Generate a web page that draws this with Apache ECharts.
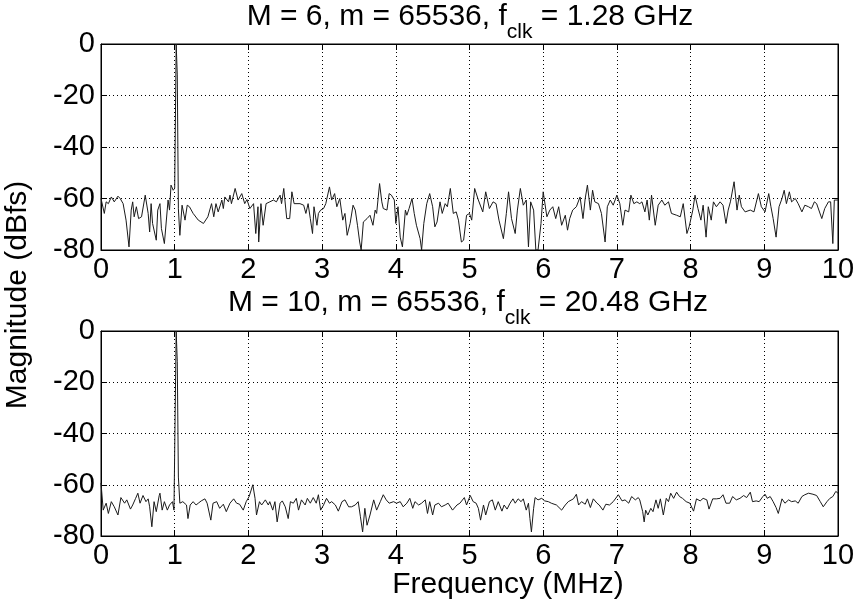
<!DOCTYPE html>
<html>
<head>
<meta charset="utf-8">
<script src="https://cdn.jsdelivr.net/npm/echarts@6/dist/echarts.min.js"></script>
<style>
html,body{margin:0;padding:0;background:#fff;}
#c{width:860px;height:604px;}
</style>
</head>
<body>
<div id="c"></div>
<script>
// ---- data ----
var xTicks = [0,1,2,3,4,5,6,7,8,9,10];
var yTicks = [-80,-60,-40,-20,0];
var titleTop = ['M = 6, m = 65536, f', 'clk', ' = 1.28 GHz'];
var titleBot = ['M = 10, m = 65536, f', 'clk', ' = 20.48 GHz'];
var xName = 'Frequency (MHz)';
var yName = 'Magnitude (dBfs)';

var topFreq = [0.00,0.045,0.07,0.10,0.14,0.18,0.23,0.26,0.30,0.34,0.38,0.41,0.43,0.45,0.48,0.51,0.55,0.60,0.64,0.66,0.68,0.70,0.75,0.77,0.80,0.82,0.86,0.91,0.93,0.95,0.98,1.00,1.02,1.035,1.05,1.07,1.10,1.14,1.17,1.20,1.25,1.32,1.39,1.45,1.50,1.53,1.56,1.59,1.64,1.66,1.68,1.73,1.75,1.77,1.82,1.86,1.91,1.95,1.98,2.02,2.07,2.10,2.13,2.14,2.17,2.20,2.24,
2.29,2.34,2.38,2.43,2.45,2.48,2.52,2.56,2.59,2.62,2.70,2.75,2.78,2.81,2.84,2.87,2.89,2.93,2.95,2.98,3.02,3.05,3.10,3.13,3.17,3.20,3.24,3.28,3.31,3.34,3.38,3.42,3.45,3.48,3.51,3.53,3.56,3.61,3.63,3.65,3.69,3.72,3.74,3.78,3.81,3.83,3.88,3.91,3.94,3.98,4.00,4.03,4.06,4.09,4.13,4.15,4.18,4.22,4.25,4.28,4.33,4.35,4.38,4.42,4.46,4.50,4.53,4.56,4.60,4.63,4.67,4.70,4.74,
4.78,4.82,4.85,4.89,4.92,4.96,5.00,5.03,5.07,5.12,5.18,5.22,5.27,5.32,5.36,5.40,5.46,5.50,5.53,5.57,5.62,5.65,5.69,5.73,5.77,5.80,5.83,5.87,5.90,5.93,5.97,6.00,6.05,6.09,6.13,6.17,6.21,6.25,6.30,6.33,6.36,6.40,6.45,6.50,6.54,6.57,6.60,6.64,6.67,6.70,6.75,6.79,6.84,6.87,6.91,6.95,7.00,7.04,7.08,7.11,7.16,7.19,7.23,7.27,
7.31,7.34,7.38,7.41,7.44,7.47,7.52,7.56,7.61,7.65,7.70,7.74,7.81,7.86,7.90,7.95,7.98,8.03,8.06,8.10,8.14,8.17,8.21,8.24,8.28,8.31,8.35,8.40,8.44,8.48,8.51,8.54,8.59,8.63,8.66,8.69,8.74,8.81,8.86,8.92,8.96,9.01,9.06,9.09,9.12,9.16,9.20,9.24,9.27,9.30,9.34,9.37,9.42,9.46,9.51,9.55,9.60,9.64,9.68,9.71,9.78,9.82,9.87,9.90,9.93,9.95,10.0];
var topDb = [-60,-65.8,-61.3,-62,-59.4,-61.3,-59.1,-60,-62,-68.4,-78.8,-64.5,-61.3,-67.1,-63.2,-67.8,-67.1,-58.7,-65.8,-73,-62,-69.7,-76.2,-64.5,-62,-71.7,-77.5,-60.6,-64.5,-54.8,-56.8,-56,0,-12,-64,-74.3,-62.6,-68.4,-62.6,-63.2,-65.8,-68.4,-69.7,-67.1,-62,-67.1,-62,-65.2,-60.6,-63.9,-59.4,-61.3,-58.7,-62,-56.1,-60.6,-58.1,-62,-60.4,-63.9,-62,-73.6,-63.2,-76.9,-62,-70.4,-62,
-61.3,-60.6,-61.3,-58.7,-62,-56.1,-67.8,-67.8,-57.4,-62,-62,-62.6,-65.8,-62,-67.8,-73.6,-63.2,-70.4,-65.8,-64.5,-63.9,-62,-55.5,-60.6,-58.1,-63.2,-60,-68.4,-65.8,-74.3,-69.7,-62.6,-64.5,-70.4,-76.9,-80,-69.1,-67.8,-68.4,-66.5,-70.4,-64.5,-65.8,-54.2,-61.3,-63.9,-64.5,-58.1,-58.7,-60.6,-69.7,-63.2,-75,-78.8,-64.5,-66.5,-63.9,-60,-65.8,-70.4,-75.6,-80,-69.7,-62,-58.1,-63.2,-71,-69.1,-61.3,-65.8,-62,-63.2,-56.1,
-65.8,-65.2,-68.4,-76.9,-76.2,-66.5,-65.8,-68.4,-56.1,-60.6,-65.2,-57.4,-63.9,-61.3,-62,-68.4,-75.6,-65.8,-57.4,-67.8,-73.6,-64.5,-56.1,-62.6,-60.6,-78.8,-61.3,-64.5,-80,-80,-69.7,-57.4,-67.1,-64.5,-63.2,-67.8,-63.2,-70.4,-66.5,-72.3,-67.8,-64.5,-63.2,-59.4,-67.8,-60,-54.8,-64.5,-56.8,-61.3,-62,-65.8,-76.9,-63.2,-60.6,-62.6,-58.7,-62,-70.4,-64.5,-65.2,-58.7,-62,-61.3,
-62,-61.3,-65.2,-60.6,-68.4,-58.7,-70.4,-62.6,-60.6,-62.6,-61.3,-65.8,-66.5,-67.1,-62,-73.6,-71,-64.5,-58.7,-63.9,-68.4,-62.6,-75,-63.2,-68.4,-61.3,-63.2,-61.3,-62.6,-69.7,-64.5,-61.3,-53.5,-64.5,-58.7,-63.2,-65.2,-64.5,-65.2,-58.1,-63.2,-65.2,-58.1,-63.2,-67.8,-75,-63.2,-60,-56.8,-62,-57.4,-61.3,-60,-62,-65.2,-62.6,-63.2,-63.9,-61.3,-62,-67.8,-63.9,-61.3,-61.3,-77.5,-60.6,-60.6];

var botFreq = [0.00,0.03,0.07,0.10,0.14,0.18,0.23,0.27,0.32,0.35,0.40,0.43,0.47,0.50,0.53,0.57,0.61,0.64,0.66,0.69,0.72,0.75,0.79,0.80,0.83,0.86,0.90,0.93,0.97,0.99,1.02,1.035,1.05,1.07,1.11,1.16,1.18,1.21,1.25,1.29,1.32,1.36,1.41,1.44,1.49,1.52,1.57,1.61,1.66,1.70,1.75,1.80,1.84,1.88,1.93,1.97,2.01,2.06,2.09,2.11,2.15,2.18,2.23,2.27,
2.29,2.33,2.36,2.39,2.43,2.46,2.50,2.54,2.57,2.61,2.65,2.68,2.72,2.77,2.80,2.84,2.88,2.92,2.95,2.98,3.02,3.06,3.10,3.13,3.18,3.22,3.27,3.31,3.36,3.40,3.45,3.49,3.52,3.55,3.58,3.61,3.65,3.70,3.74,3.79,3.83,3.87,3.91,3.97,4.01,4.06,4.10,4.15,4.19,4.23,4.26,4.31,4.35,4.40,4.43,4.46,4.50,4.53,4.58,4.62,4.67,4.71,
4.77,4.83,4.87,4.93,4.96,5.01,5.05,5.09,5.12,5.15,5.19,5.22,5.27,5.31,5.35,5.39,5.44,5.47,5.51,5.55,5.59,5.62,5.66,5.70,5.73,5.77,5.80,5.82,5.84,5.87,5.89,5.93,5.98,6.02,6.07,6.11,6.18,6.25,6.30,6.34,6.41,6.45,6.48,6.52,6.57,6.60,6.64,6.68,6.73,6.76,6.81,6.85,6.90,6.95,7.02,7.07,7.11,7.16,7.20,7.25,7.29,
7.31,7.35,7.37,7.39,7.42,7.46,7.49,7.53,7.56,7.59,7.63,7.67,7.70,7.73,7.77,7.81,7.85,7.89,7.94,7.99,8.04,8.08,8.13,8.17,8.22,8.25,8.30,8.35,8.40,8.44,8.48,8.53,8.57,8.62,8.67,8.72,8.76,8.81,8.84,8.89,8.93,8.98,9.01,9.04,9.08,9.12,9.16,9.19,9.24,9.28,9.33,9.37,9.42,9.46,9.51,9.55,9.60,9.66,9.71,9.76,9.80,9.85,9.89,9.93,9.97,10.0];
var botDb = [-59.3,-69.9,-67.2,-71.2,-66.6,-68.6,-71.8,-65,-67.2,-65.9,-69.5,-67.9,-65.3,-63.3,-67.2,-64.2,-66.6,-65.5,-68.6,-76.4,-66.6,-70.5,-64.2,-63.3,-69.9,-66.6,-69.9,-67.9,-66.6,-69.9,0,-12,-57,-67.2,-66.6,-67.9,-73.2,-67.9,-66.6,-67.9,-67.2,-66.3,-65.5,-67.2,-73.8,-67.2,-66.6,-69.2,-67.6,-70.5,-67.2,-65.5,-67.2,-67.6,-69.9,-66.6,-64.6,-60,-65.3,-71.8,-66.6,-67.9,-65.9,-67.9,
-66.6,-69.9,-66.6,-74.5,-67.2,-66.3,-68.6,-73.2,-66.6,-67.2,-65.3,-69.9,-65.9,-67.9,-65.3,-67.2,-65,-67.2,-63.9,-69.9,-67.9,-65.3,-67.2,-66.6,-67.9,-70.3,-66.6,-65.9,-68.6,-68.6,-67.9,-66.6,-72.5,-78.4,-69.2,-75.8,-71.8,-65.9,-69.9,-66.6,-63.9,-65.9,-67.2,-66.6,-67.2,-66.6,-68.6,-67.2,-65.3,-69.2,-66.6,-67.9,-67.2,-65.9,-71.2,-66.6,-71.8,-67.9,-67.2,-68.6,-67.9,-67.2,
-69.9,-67.9,-67.2,-65,-67.9,-64.2,-66.6,-67.2,-69.2,-73.8,-67.9,-71.8,-66.6,-65.9,-69.9,-66.6,-70.3,-67.9,-69.5,-67.2,-65.5,-67.2,-65.5,-66.6,-65.5,-69.9,-67.2,-73.2,-78.4,-69.2,-65,-65.9,-65.3,-66.3,-66.6,-67.2,-67.9,-69.9,-67.9,-66.6,-65.5,-63.7,-67.9,-66.6,-67.6,-65.5,-68.9,-65.5,-67.2,-67.9,-69.9,-67.6,-67.9,-66.6,-63.9,-66.3,-65.9,-67.2,-64.6,-65.9,-65,
-65.9,-70.5,-74.5,-69.9,-71.8,-69.2,-70.5,-65.9,-69.2,-65.5,-71.8,-65.3,-66.6,-63.3,-65.3,-62.9,-64.6,-65.3,-66.6,-67.2,-70.3,-65.5,-66.3,-65.3,-65.9,-69.5,-65.5,-65.5,-65.3,-63.9,-67.2,-67.2,-64.6,-65.9,-65.3,-64.2,-65,-62.9,-66.6,-66.3,-66.6,-64.6,-63.7,-65.3,-64.6,-66.6,-68.9,-71.2,-65.5,-67.2,-65.9,-66.6,-66.3,-67.2,-64.6,-63.9,-63.3,-63.7,-64.2,-66.6,-68.6,-66.6,-65.3,-64.6,-62.6,-63.3];

// ---- build ----
var FONT = '"Liberation Sans", Arial, Helvetica, sans-serif';
var FS = 29;
var FT = 30;
function zip(a, b) { return a.map(function (v, i) { return [v, b[i]]; }); }

var chart = echarts.init(document.getElementById('c'), null, {renderer: 'canvas'});

var grids = [
  {left: 101, right: 22, top: 44, height: 206, show: true, borderColor: '#000', borderWidth: 1, backgroundColor: '#fff'},
  {left: 101, right: 22, top: 331, height: 205, show: true, borderColor: '#000', borderWidth: 1, backgroundColor: '#fff'}
];

function xAx(gi, pos, main) {
  return {
    type: 'value', gridIndex: gi, position: pos, min: xTicks[0], max: xTicks[xTicks.length - 1], interval: 1,
    axisLine: {show: true, onZero: false, lineStyle: {color: '#000', width: 1}},
    axisTick: {show: true, inside: true, length: 6, lineStyle: {color: '#000'}},
    axisLabel: {show: main, color: '#000', fontSize: FS, fontFamily: FONT, margin: 5},
    splitLine: {show: main, lineStyle: {color: '#000', type: [1, 3], width: 1}}
  };
}
function yAx(gi, pos, main) {
  return {
    type: 'value', gridIndex: gi, position: pos, min: yTicks[0], max: yTicks[yTicks.length - 1], interval: 20,
    axisLine: {show: true, onZero: false, lineStyle: {color: '#000', width: 1}},
    axisTick: {show: true, inside: true, length: 6, lineStyle: {color: '#000'}},
    axisLabel: {show: main, color: '#000', fontSize: FS, fontFamily: FONT, margin: 6},
    splitLine: {show: main, lineStyle: {color: '#000', type: [1, 3], width: 1}}
  };
}

// measure text for subscript titles
var mctx = document.createElement('canvas').getContext('2d');
function tw(t, s) { mctx.font = s + 'px ' + FONT; return mctx.measureText(t).width; }
function titleGraphics(parts, cx, midY) {
  var s1 = FT, s2 = 21;
  var w1 = tw(parts[0], s1), w2 = tw(parts[1], s2), w3 = tw(parts[2], s1);
  var x0 = cx - (w1 + w2 + w3) / 2;
  var base = {fontFamily: FONT, fill: '#000', verticalAlign: 'middle', align: 'left'};
  return [
    {type: 'text', x: x0, y: midY, style: Object.assign({text: parts[0], fontSize: s1}, base)},
    {type: 'text', x: x0 + w1, y: midY + 15, style: Object.assign({text: parts[1], fontSize: s2}, base)},
    {type: 'text', x: x0 + w1 + w2, y: midY, style: Object.assign({text: parts[2], fontSize: s1}, base)}
  ];
}

var graphics = [].concat(
  titleGraphics(titleTop, 470, 17),
  titleGraphics(titleBot, 468, 303),
  [
    {type: 'text', x: 508, y: 585, style: {text: xName, fontSize: FT, fontFamily: FONT, fill: '#000', align: 'center', verticalAlign: 'middle'}},
    {type: 'text', x: 18, y: 295, rotation: Math.PI / 2, style: {text: yName, fontSize: FT, fontFamily: FONT, fill: '#000', align: 'center', verticalAlign: 'middle'}}
  ]
);

var option = {
  animation: false,
  backgroundColor: '#fff',
  grid: grids,
  xAxis: [xAx(0, 'bottom', true), xAx(1, 'bottom', true), xAx(0, 'top', false), xAx(1, 'top', false)],
  yAxis: [yAx(0, 'left', true), yAx(1, 'left', true), yAx(0, 'right', false), yAx(1, 'right', false)],
  graphic: graphics,
  series: [
    {type: 'line', xAxisIndex: 0, yAxisIndex: 0, data: zip(topFreq, topDb), showSymbol: false, symbol: 'none',
     lineStyle: {color: '#1a1a1a', width: 1}, silent: true},
    {type: 'line', xAxisIndex: 1, yAxisIndex: 1, data: zip(botFreq, botDb), showSymbol: false, symbol: 'none',
     lineStyle: {color: '#1a1a1a', width: 1}, silent: true}
  ]
};
chart.setOption(option);
</script>
</body>
</html>
